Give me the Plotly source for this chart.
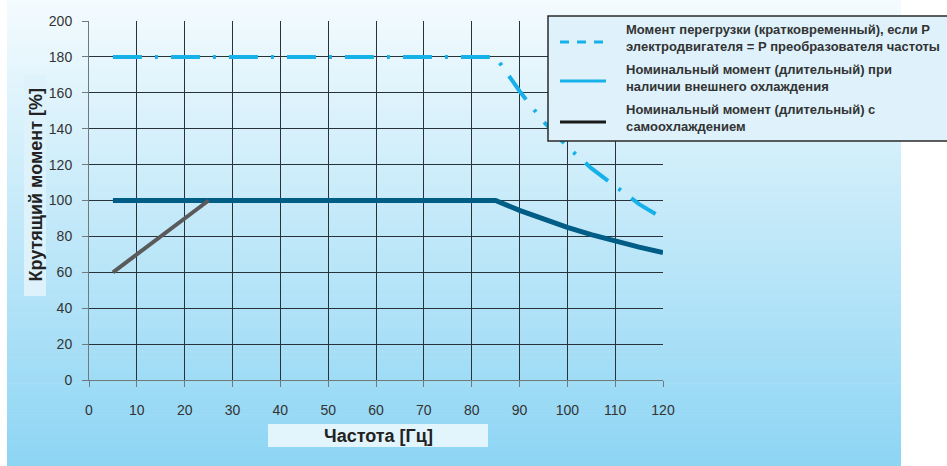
import plotly.graph_objects as go

# ---------------- data ----------------
freq_overload = [5, 85, 90, 95, 100, 105, 110, 115, 120]
torque_overload = [180, 180, 161, 144, 130, 118, 108, 98, 90]

freq_nominal = [5, 85, 90, 95, 100, 105, 110, 115, 120]
torque_nominal = [100, 100, 94.5, 89.5, 85, 81, 77.3, 74, 71]

freq_selfcool = [5, 25]
torque_selfcool = [60, 100]

x_ticks = [0, 10, 20, 30, 40, 50, 60, 70, 80, 90, 100, 110, 120]
y_ticks = [0, 20, 40, 60, 80, 100, 120, 140, 160, 180, 200]

legend_labels = [
    "Момент перегрузки (кратковременный), если Р<br>электродвигателя = Р преобразователя частоты",
    "Номинальный момент (длительный) при<br>наличии внешнего охлаждения",
    "Номинальный момент (длительный) с<br>самоохлаждением",
]
legend_colors = ["#17b1ea", "#17b1ea", "#1a1a1a"]
legend_dashes = ["dash", "solid", "solid"]

x_title = "Частота [Гц]"
y_title = "Крутящий момент [%]"

# ---------------- geometry helpers ----------------
W, H = 947, 466
L, R, T, B = 89, 663, 21, 380  # plot area in pixels


def px(x):
    return (x - L) / (R - L)


def py(y):
    return (B - y) / (B - T)


fig = go.Figure()

fig.add_trace(go.Scatter(
    x=freq_nominal, y=torque_nominal, mode="lines",
    line=dict(color="#005d86", width=5), showlegend=False, hoverinfo="skip"))
fig.add_trace(go.Scatter(
    x=freq_selfcool, y=torque_selfcool, mode="lines",
    line=dict(color="#5a5a5a", width=4), showlegend=False, hoverinfo="skip"))
fig.add_trace(go.Scatter(
    x=freq_overload, y=torque_overload, mode="lines",
    line=dict(color="#17b1ea", width=4, dash="29px,13px,3px,13px"),
    showlegend=False, hoverinfo="skip"))

shapes = []
# gradient background (bands)
n = 90
top_c = (244, 251, 254)
bot_c = (141, 213, 244)
for i in range(n):
    t = (i + 0.5) / n
    c = tuple(int(round(top_c[k] + (bot_c[k] - top_c[k]) * t)) for k in range(3))
    y0 = H * i / n
    y1 = H * (i + 1) / n + 0.6
    shapes.append(dict(type="rect", xref="paper", yref="paper",
                       x0=px(7), x1=px(901), y0=py(y1), y1=py(y0),
                       line=dict(width=0), fillcolor="rgb(%d,%d,%d)" % c,
                       layer="below"))
# axis title boxes
shapes.append(dict(type="rect", xref="paper", yref="paper",
                   x0=px(24), x1=px(46), y0=py(296), y1=py(75),
                   line=dict(width=0), fillcolor="#def2fb", layer="below"))
shapes.append(dict(type="rect", xref="paper", yref="paper",
                   x0=px(268), x1=px(488), y0=py(447), y1=py(424),
                   line=dict(width=0), fillcolor="#e2f4fc", layer="below"))
# legend box
shapes.append(dict(type="rect", xref="paper", yref="paper",
                   x0=px(548), x1=px(960), y0=py(141), y1=py(16),
                   line=dict(width=1.5, color="#2a2a2a"), fillcolor="#dff2fb",
                   layer="above"))
annotations = []
sample_y = [42, 81, 122]
text_y = [38, 78, 118]
for lab, col, dsh, sy, ty in zip(legend_labels, legend_colors, legend_dashes, sample_y, text_y):
    shapes.append(dict(type="line", xref="paper", yref="paper",
                       x0=px(560), x1=px(606), y0=py(sy), y1=py(sy),
                       line=dict(color=col, width=3,
                                 dash="9px,8px" if dsh == "dash" else "solid"),
                       layer="above"))
    annotations.append(dict(xref="paper", yref="paper", x=px(624), y=py(ty),
                            text=lab, showarrow=False, xanchor="left", yanchor="middle",
                            align="left",
                            font=dict(family="Liberation Sans, Arial", size=13,
                                      color="#333333", weight="bold")))

annotations.append(dict(xref="paper", yref="paper", x=px(35), y=py(185.5),
                        text=y_title, showarrow=False, textangle=-90,
                        xanchor="center", yanchor="middle",
                        font=dict(family="Liberation Sans, Arial", size=18,
                                  color="#222222", weight="bold")))
annotations.append(dict(xref="paper", yref="paper", x=px(378), y=py(436),
                        text=x_title, showarrow=False,
                        xanchor="center", yanchor="middle",
                        font=dict(family="Liberation Sans, Arial", size=18,
                                  color="#222222", weight="bold")))

axis_common = dict(
    showgrid=True, gridcolor="#27323a", gridwidth=1,
    zeroline=False, showline=True, linecolor="#6f7a80", linewidth=1,
    ticks="outside", ticklen=6, tickcolor="#6f7a80", tickwidth=1,
    tickfont=dict(family="Liberation Sans, Arial", size=14, color="#333333"),
)

fig.update_layout(
    width=W, height=H,
    margin=dict(l=L, r=W - R, t=T, b=H - B),
    paper_bgcolor="white", plot_bgcolor="rgba(0,0,0,0)",
    showlegend=False,
    shapes=shapes, annotations=annotations,
    xaxis=dict(range=[0, 120], tickvals=x_ticks, ticklabelstandoff=11, **axis_common),
    yaxis=dict(range=[0, 200], tickvals=y_ticks, ticklabelstandoff=7, **axis_common),
)

fig.write_html("out.html", config={"displayModeBar": False},
               post_script="document.body.style.margin='0';document.body.style.overflow='hidden';")
